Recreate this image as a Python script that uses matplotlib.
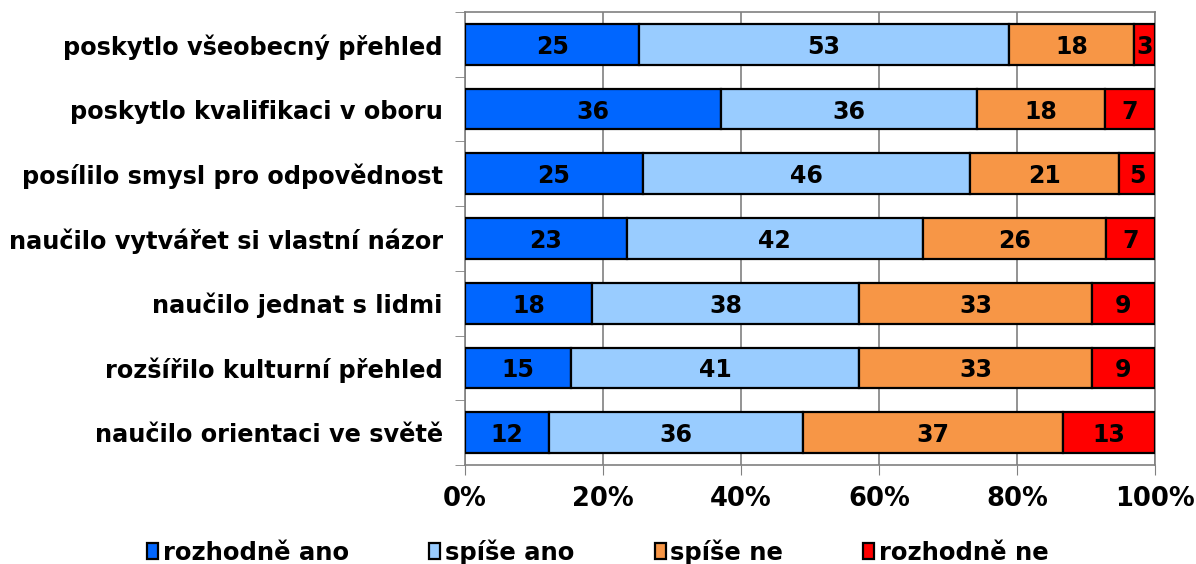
import matplotlib.pyplot as plt
import numpy as np

# data
categories = ['poskytlo všeobecný přehled', 'poskytlo kvalifikaci v oboru',
              'posílilo smysl pro odpovědnost', 'naučilo vytvářet si vlastní názor',
              'naučilo jednat s lidmi', 'rozšířilo kulturní přehled',
              'naučilo orientaci ve světě']
series_names = ['rozhodně ano', 'spíše ano', 'spíše ne', 'rozhodně ne']
rozhodne_ano = [25, 36, 25, 23, 18, 15, 12]
spise_ano = [53, 36, 46, 42, 38, 41, 36]
spise_ne = [18, 18, 21, 26, 33, 33, 37]
rozhodne_ne = [3, 7, 5, 7, 9, 9, 13]
colors = ['#0066FF', '#99CCFF', '#F79646', '#FF0000']

vals = np.array([rozhodne_ano, spise_ano, spise_ne, rozhodne_ne], dtype=float)
shares = vals / vals.sum(axis=0)  # 100% stacked

fig = plt.figure(figsize=(11.96, 5.64), dpi=100)
ax = fig.add_axes([465/1196, 1 - 465/564, 690/1196, 453/564])

y = np.arange(len(categories))
left = np.zeros(len(categories))
bars = []
for i in range(4):
    b = ax.barh(y, shares[i], left=left, height=0.63, color=colors[i],
                edgecolor='black', linewidth=1.6, label=series_names[i], zorder=3)
    bars.append(b)
    for j in range(len(categories)):
        ax.text(left[j] + shares[i][j] / 2, y[j], '%d' % vals[i][j],
                ha='center', va='center_baseline', fontsize=17, fontweight='bold', zorder=4)
    left += shares[i]

ax.set_xlim(0, 1)
ax.set_ylim(len(categories) - 0.5, -0.5)
ax.set_xticks(np.arange(0, 1.01, 0.2))
ax.set_xticklabels(['%d%%' % v for v in range(0, 101, 20)], fontsize=18.5, fontweight='bold')
ax.set_yticks(y)
ax.set_yticklabels(categories, fontsize=17.3, fontweight='bold')
ax.set_yticks(np.arange(-0.5, len(categories), 1), minor=True)
ax.tick_params(axis='y', which='major', length=0, pad=16)
ax.tick_params(axis='y', which='minor', length=7, color='#808080')
ax.tick_params(axis='x', length=7, color='#808080', pad=8)
ax.grid(axis='x', color='#808080', linewidth=1.2, zorder=0)
for s in ax.spines.values():
    s.set_color('#808080')
    s.set_linewidth(1.2)

fig.legend(handles=bars, labels=series_names, loc='lower center', ncol=4,
           bbox_to_anchor=(0.5, -0.04), frameon=False,
           prop={'size': 17.5, 'weight': 'bold'}, handlelength=0.45, handleheight=0.6,
           handletextpad=0.2, columnspacing=3.3)

plt.savefig('out.png', dpi=100)
